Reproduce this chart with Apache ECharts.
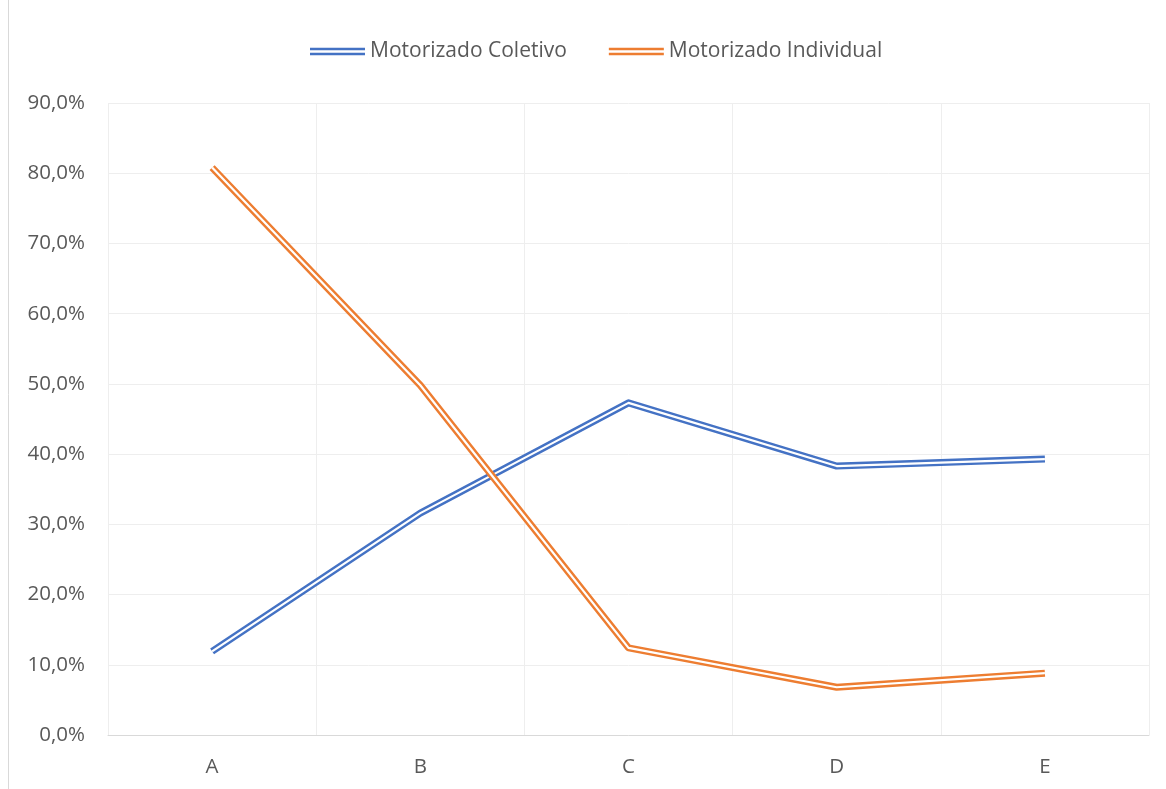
<!DOCTYPE html>
<html>
<head>
<meta charset="utf-8">
<script src="https://cdn.jsdelivr.net/npm/echarts@6/dist/echarts.min.js"></script>
<style>
  html, body { margin: 0; padding: 0; background: #fff; }
  #chart { width: 1166px; height: 789px; }
</style>
</head>
<body>
<div id="chart"></div>
<script>
// Modal share by region
const categories = ['A', 'B', 'C', 'D', 'E'];
const coletivo = [11.9, 31.6, 47.3, 38.3, 39.3];
const individual = [80.8, 49.8, 12.4, 6.8, 8.8];
const seriesNames = ['Motorizado Coletivo', 'Motorizado Individual'];
const yTicks = { min: 0, max: 90, step: 10 };

const BLUE = '#4472C4';
const ORANGE = '#ED7D31';
const GRID = '#EEEEEE';
const AXIS = '#D9D9D9';
const TEXT = '#595959';
const FONT = '"Open Sans", "Noto Sans", sans-serif';

// Double (compound) stroke: a wide coloured line with a thin white line on top
function doubleLine(name, data, color) {
  return [
    {
      name: name, type: 'line', data: data, symbol: 'none', smooth: false,
      lineStyle: { color: color, width: 7, join: 'round' }, itemStyle: { color: color },
      emphasis: { disabled: true }, animation: false
    },
    {
      name: name + ' (core)', type: 'line', data: data, symbol: 'none',
      lineStyle: { color: '#ffffff', width: 2.2, join: 'round' },
      emphasis: { disabled: true }, animation: false, silent: true
    }
  ];
}

const legendIcon = 'path://M0,0H55V2.7H0Z M0,5H55V7.7H0Z';

const chart = echarts.init(document.getElementById('chart'), null, { renderer: 'canvas' });
chart.setOption({
  backgroundColor: '#ffffff',
  animation: false,
  textStyle: { fontFamily: FONT },
  graphic: [{
    type: 'line', shape: { x1: 8.5, y1: 0, x2: 8.5, y2: 789 },
    style: { stroke: AXIS, lineWidth: 1 }, silent: true
  }],
  legend: {
    top: 36, left: 305,
    itemWidth: 55, itemHeight: 7.7, itemGap: 42,
    textStyle: { color: TEXT, fontSize: 21, fontFamily: FONT },
    data: [
      { name: seriesNames[0], icon: legendIcon, itemStyle: { color: BLUE } },
      { name: seriesNames[1], icon: legendIcon, itemStyle: { color: ORANGE } }
    ],
    selectedMode: false
  },
  grid: { left: 108, right: 17, top: 103, bottom: 54, containLabel: false },
  xAxis: {
    type: 'category', data: categories, boundaryGap: true,
    axisLine: { show: true, lineStyle: { color: AXIS, width: 1 } },
    axisTick: { show: false },
    splitLine: { show: true, lineStyle: { color: GRID, width: 1 } },
    axisLabel: { color: TEXT, fontSize: 20.5, margin: 22, fontFamily: FONT }
  },
  yAxis: {
    type: 'value', min: yTicks.min, max: yTicks.max, interval: yTicks.step,
    axisLine: { show: false }, axisTick: { show: false },
    splitLine: { show: true, lineStyle: { color: GRID, width: 1 } },
    axisLabel: {
      color: TEXT, fontSize: 20.5, margin: 23, fontFamily: FONT,
      formatter: v => v.toFixed(1).replace('.', ',') + '%'
    }
  },
  series: [
    ...doubleLine(seriesNames[0], coletivo, BLUE),
    ...doubleLine(seriesNames[1], individual, ORANGE)
  ]
});
</script>
</body>
</html>
